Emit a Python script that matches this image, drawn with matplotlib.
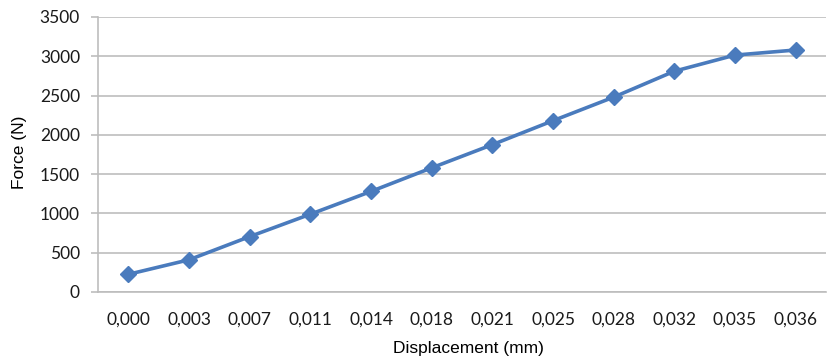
import matplotlib.pyplot as plt

# data
displacement = ["0,000", "0,003", "0,007", "0,011", "0,014", "0,018",
                "0,021", "0,025", "0,028", "0,032", "0,035", "0,036"]
force = [225, 410, 705, 990, 1280, 1580, 1875, 2180, 2480, 2810, 3015, 3080]

y_ticks = [0, 500, 1000, 1500, 2000, 2500, 3000, 3500]

fig = plt.figure(figsize=(8.36, 3.62), dpi=100)
ax = fig.add_axes([98 / 836, 1 - 292 / 362, (826 - 98) / 836, (292 - 17) / 362])

x = list(range(len(displacement)))
ax.plot(x, force, color="#4a7bbd", linewidth=2.6, marker="D",
        markersize=8.5, markerfacecolor="#4a7bbd", markeredgecolor="#4a7bbd",
        zorder=3)

ax.set_xlim(-0.5, len(displacement) - 0.5)
ax.set_ylim(0, 3500)
ax.set_yticks(y_ticks)
ax.set_xticks(x)
ax.set_xticklabels(displacement)

ax.grid(axis="y", color="#bdbdbd", linewidth=1.2)
ax.set_axisbelow(True)
for side in ["top", "right"]:
    ax.spines[side].set_visible(False)
ax.spines["left"].set_color("#bdbdbd")
ax.spines["bottom"].set_color("#bdbdbd")
ax.spines["left"].set_linewidth(1.2)
ax.spines["bottom"].set_linewidth(1.2)

ax.tick_params(axis="y", length=5, color="#bdbdbd", width=1.2, pad=8)
ax.tick_params(axis="x", length=0, pad=14)
for lab in ax.get_xticklabels() + ax.get_yticklabels():
    lab.set_fontfamily("Lato")
    lab.set_fontsize(12.5)
    lab.set_color("#1a1a1a")

fig.text(20 / 836, 1 - 152 / 362, "Force (N)", rotation=90, ha="center",
         va="center", fontsize=12.5, family="Liberation Sans")
fig.text(468 / 836, 1 - 349 / 362, "Displacement (mm)", ha="center",
         va="center", fontsize=12.5, family="Liberation Sans")

fig.savefig("out.png", dpi=100)
